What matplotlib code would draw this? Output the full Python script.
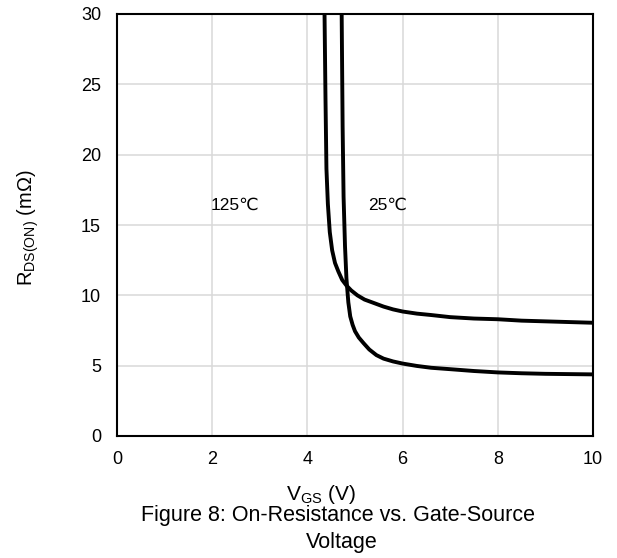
import matplotlib
matplotlib.use('Agg')
import matplotlib.pyplot as plt

plt.rcParams['font.family'] = ['Liberation Sans', 'DejaVu Sans']
plt.rcParams['mathtext.fontset'] = 'custom'
plt.rcParams['mathtext.rm'] = 'Liberation Sans'

# curve data
vgs_125 = [4.36, 4.38, 4.40, 4.43, 4.47, 4.52, 4.58, 4.65, 4.73, 4.82, 4.92, 5.05, 5.20, 5.40,
           5.60, 5.80, 6.00, 6.30, 6.60, 7.00, 7.50, 8.00, 8.50, 9.00, 9.50, 10.0]
rds_125 = [30.0, 24.0, 19.0, 16.5, 14.5, 13.2, 12.3, 11.7, 11.1, 10.7, 10.35, 10.0, 9.7, 9.45,
           9.2, 9.0, 8.85, 8.7, 8.6, 8.45, 8.35, 8.3, 8.2, 8.15, 8.1, 8.05]
vgs_25 = [4.72, 4.74, 4.76, 4.79, 4.82, 4.86, 4.90, 4.95, 5.00, 5.08, 5.18, 5.30, 5.45, 5.60,
          5.80, 6.00, 6.30, 6.60, 7.00, 7.50, 8.00, 8.50, 9.00, 9.50, 10.0]
rds_25 = [30.0, 22.0, 17.0, 13.5, 11.2, 9.5, 8.5, 7.9, 7.45, 7.0, 6.6, 6.15, 5.75, 5.5,
          5.3, 5.15, 4.98, 4.85, 4.75, 4.62, 4.52, 4.46, 4.42, 4.4, 4.38]

x_ticks = [0, 2, 4, 6, 8, 10]
y_ticks = [0, 5, 10, 15, 20, 25, 30]

fs = 13

fig = plt.figure(figsize=(6.17, 5.58), dpi=100)
ax = fig.add_axes([117 / 617, 1 - 436 / 558, 476 / 617, 422 / 558])

ax.plot(vgs_125, rds_125, color='black', linewidth=2.8, solid_joinstyle='round')
ax.plot(vgs_25, rds_25, color='black', linewidth=2.8, solid_joinstyle='round')

ax.set_xlim(0, 10)
ax.set_ylim(0, 30)
ax.set_xticks(x_ticks)
ax.set_yticks(y_ticks)
ax.grid(True, color='#d9d9d9', linewidth=1.1)
ax.set_axisbelow(True)
ax.tick_params(length=0, labelsize=fs)
ax.tick_params(axis='x', pad=11)
ax.tick_params(axis='y', pad=11.5)
for s in ax.spines.values():
    s.set_linewidth(1.5)
    s.set_color('black')

ax.text(2.48, 16.4, '125\u2103', fontsize=12.5, ha='center', va='center')
ax.text(5.68, 16.4, '25\u2103', fontsize=12.5, ha='center', va='center')

fig.text(28 / 617, 1 - 228 / 558, r'$\mathregular{R_{DS(ON)}}$ (m' + '\u03a9)',
         rotation=90, fontsize=14.5, ha='center', va='center')
fig.text(321 / 617, 1 - 500 / 558, r'$\mathregular{V_{GS}}$ (V)', fontsize=15, ha='center', va='baseline')
fig.text(338 / 617, 1 - 521 / 558, 'Figure 8: On-Resistance vs. Gate-Source', fontsize=15.5,
         ha='center', va='baseline')
fig.text(342 / 617, 1 - 548 / 558, 'Voltage', fontsize=15.5, ha='center', va='baseline')

fig.savefig('out.png', dpi=100)
